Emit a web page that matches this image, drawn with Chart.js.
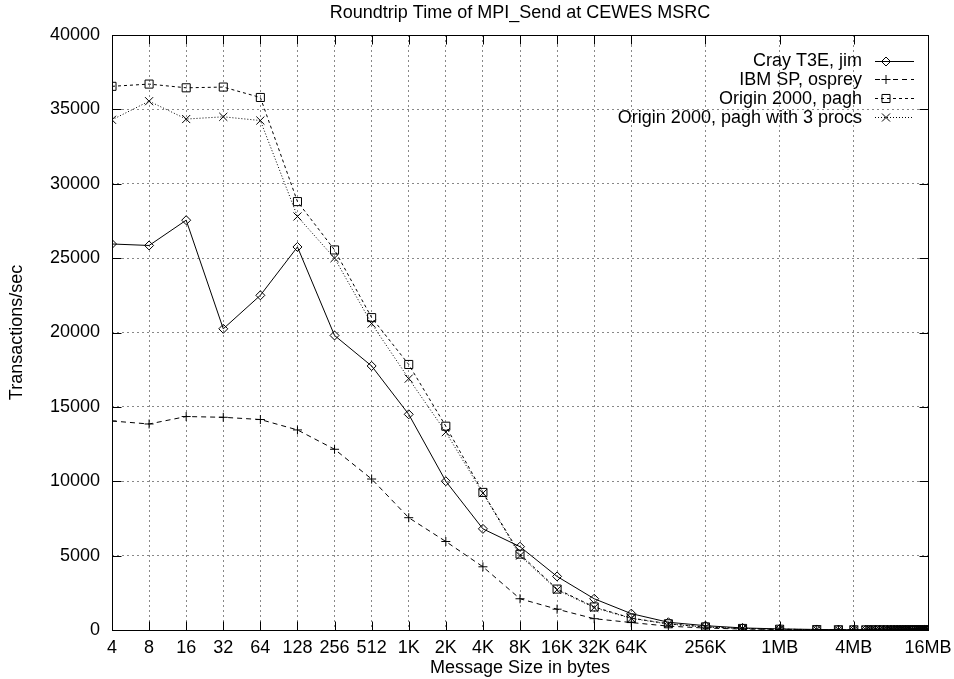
<!DOCTYPE html>
<html>
<head>
<meta charset="utf-8">
<title>Roundtrip Time of MPI_Send at CEWES MSRC</title>
<script src="https://cdn.jsdelivr.net/npm/chart.js@4.4.0/dist/chart.umd.min.js"></script>
<style>
  html, body { margin: 0; padding: 0; background: #fff; }
  #wrap { width: 954px; height: 679px; }
</style>
</head>
<body>
<div id="wrap"><canvas id="chart" width="954" height="679"></canvas></div>
<script>
const KB = 1024, MB = 1024 * KB;

// message sizes in bytes
const msgSizes = [4, 8, 16, 32, 64, 128, 256, 512,
    1 * KB, 2 * KB, 4 * KB, 8 * KB, 16 * KB, 32 * KB, 64 * KB, 128 * KB, 256 * KB, 512 * KB,
    1 * MB, 2 * MB, 3 * MB, 4 * MB,
    5 * MB, 5.5 * MB, 6 * MB, 6.5 * MB, 7 * MB, 7.5 * MB, 8 * MB, 8.5 * MB, 9 * MB, 9.5 * MB,
    10 * MB, 10.5 * MB, 11 * MB, 11.5 * MB, 12 * MB, 12.5 * MB, 13 * MB, 13.5 * MB, 14 * MB,
    14.5 * MB, 15 * MB, 15.5 * MB, 16 * MB];

// transactions/sec
const crayT3E = [25950, 25850, 27550, 20250, 22500, 25750, 19800, 17750,
    14500, 10000, 6800, 5600, 3600, 2100, 1100, 520, 290, 140,
    72, 36, 24, 18,
    14, 13, 12, 11, 10, 10, 9, 8, 8, 8, 7, 7, 7, 6, 6, 6, 6, 5, 5, 5, 5, 5, 5];
const ibmSP = [14050, 13850, 14350, 14300, 14150, 13450, 12150, 10150,
    7550, 5950, 4250, 2100, 1400, 760, 500, 260, 130, 65,
    33, 16, 11, 8,
    7, 6, 6, 5, 5, 4, 4, 4, 4, 3, 3, 3, 3, 3, 3, 3, 2, 2, 2, 2, 2, 2, 2];
const originPagh = [36550, 36700, 36450, 36500, 35800, 28800, 25550, 21000,
    17850, 13700, 9250, 5100, 2750, 1550, 800, 420, 210, 105,
    52, 26, 17, 13,
    10, 9, 9, 8, 7, 7, 6, 6, 6, 5, 5, 5, 5, 4, 4, 4, 4, 4, 4, 3, 3, 3, 3];
const originPagh3 = [34300, 35550, 34350, 34500, 34250, 27800, 25000, 20600,
    16900, 13300, 9200, 5000, 2700, 1500, 780, 400, 200, 100,
    50, 25, 17, 12,
    10, 9, 8, 8, 7, 7, 6, 6, 5, 5, 5, 5, 4, 4, 4, 4, 4, 4, 3, 3, 3, 3, 3];

const seriesNames = ['Cray T3E, jim', 'IBM SP, osprey', 'Origin 2000, pagh', 'Origin 2000, pagh with 3 procs'];
const chartTitle = 'Roundtrip Time of MPI_Send at CEWES MSRC';

const xTickValues = [4, 8, 16, 32, 64, 128, 256, 512, 1 * KB, 2 * KB, 4 * KB, 8 * KB, 16 * KB,
    32 * KB, 64 * KB, 256 * KB, 1 * MB, 4 * MB, 16 * MB];
const xTickLabels = ['4', '8', '16', '32', '64', '128', '256', '512', '1K', '2K', '4K', '8K', '16K',
    '32K', '64K', '256K', '1MB', '4MB', '16MB'];
const yMin = 0, yMax = 40000, yStep = 5000;

const FONT = "'Liberation Sans', Arial, Helvetica, sans-serif";
const FS = 18;
Chart.defaults.font.family = FONT;
Chart.defaults.font.size = FS;
Chart.defaults.color = '#000';

function toPoints(values) {
    return values.map((v, i) => ({ x: msgSizes[i], y: v }));
}

const styles = [
    { marker: 'diamond', radius: 4.5, dash: [] },
    { marker: 'plus', radius: 4.5, dash: [5, 4] },
    { marker: 'square', radius: 5.7, dash: [3, 3] },
    { marker: 'x', radius: 5.7, dash: [1, 2] }
];
const chartStyles = { diamond: 'rectRot', plus: 'cross', square: 'rect', x: 'crossRot' };

const allValues = [crayT3E, ibmSP, originPagh, originPagh3];
const datasets = allValues.map((vals, i) => ({
    label: seriesNames[i],
    data: toPoints(vals),
    borderColor: '#000',
    borderWidth: 1,
    borderDash: styles[i].dash,
    pointStyle: chartStyles[styles[i].marker],
    pointRadius: styles[i].radius,
    pointBorderColor: '#000',
    pointBackgroundColor: 'rgba(0,0,0,0)',
    pointBorderWidth: 1,
    tension: 0,
    fill: false
}));

function drawMarker(ctx, kind, x, y, r) {
    ctx.beginPath();
    if (kind === 'diamond') {
        ctx.moveTo(x, y - r); ctx.lineTo(x + r, y); ctx.lineTo(x, y + r); ctx.lineTo(x - r, y); ctx.closePath();
    } else if (kind === 'plus') {
        ctx.moveTo(x - r, y); ctx.lineTo(x + r, y); ctx.moveTo(x, y - r); ctx.lineTo(x, y + r);
    } else if (kind === 'square') {
        const s = r * Math.SQRT1_2;
        ctx.rect(x - s, y - s, 2 * s, 2 * s);
    } else {
        const s = r * Math.SQRT1_2;
        ctx.moveTo(x - s, y - s); ctx.lineTo(x + s, y + s); ctx.moveTo(x - s, y + s); ctx.lineTo(x + s, y - s);
    }
    ctx.stroke();
}

// gnuplot style frame with inward ticks
const framePlugin = {
    id: 'frame',
    beforeDatasetsDraw(chart) {
        const ctx = chart.ctx;
        const a = chart.chartArea;
        const L = Math.round(a.left) + 0.5, R = Math.round(a.right) + 0.5;
        const T = Math.round(a.top) + 0.5, B = Math.round(a.bottom) + 0.5;
        const tl = 9;
        ctx.save();
        ctx.strokeStyle = '#000';
        ctx.lineWidth = 1;
        ctx.setLineDash([]);
        ctx.strokeRect(L, T, R - L, B - T);
        ctx.beginPath();
        xTickValues.forEach(v => {
            const px = Math.round(chart.scales.x.getPixelForValue(v)) + 0.5;
            ctx.moveTo(px, B); ctx.lineTo(px, B - tl);
            ctx.moveTo(px, T); ctx.lineTo(px, T + tl);
        });
        for (let v = yMin; v <= yMax; v += yStep) {
            const py = Math.round(chart.scales.y.getPixelForValue(v)) + 0.5;
            ctx.moveTo(L, py); ctx.lineTo(L + tl, py);
            ctx.moveTo(R, py); ctx.lineTo(R - tl, py);
        }
        ctx.stroke();
        ctx.restore();
    }
};

// title over the plot centre + key in the top right corner
const keyPlugin = {
    id: 'key',
    afterDraw(chart) {
        const ctx = chart.ctx;
        const a = chart.chartArea;
        ctx.save();
        ctx.font = FS + 'px ' + FONT;
        ctx.fillStyle = '#000';
        ctx.textAlign = 'center';
        ctx.textBaseline = 'middle';
        ctx.fillText(chartTitle, (a.left + a.right) / 2, 13);

        const textRight = 862, lineStart = 875, lineEnd = 914, markX = 886;
        const top = 60.5, step = 18.8;
        ctx.textAlign = 'right';
        seriesNames.forEach((name, i) => {
            const y = top + i * step;
            ctx.fillText(name, textRight, y + 1);
            ctx.strokeStyle = '#000';
            ctx.lineWidth = 1;
            ctx.setLineDash(styles[i].dash);
            ctx.beginPath();
            ctx.moveTo(lineStart, Math.round(y) + 0.5);
            ctx.lineTo(lineEnd, Math.round(y) + 0.5);
            ctx.stroke();
            ctx.setLineDash([]);
            drawMarker(ctx, styles[i].marker, markX, Math.round(y) + 0.5, styles[i].radius);
        });
        ctx.restore();
    }
};

const chartCanvas = document.getElementById('chart');
new Chart(chartCanvas.getContext('2d'), {
    type: 'line',
    data: { datasets: datasets },
    options: {
        responsive: false,
        animation: false,
        layout: { padding: { top: 35, left: 0, right: 26, bottom: 0 } },
        plugins: {
            legend: { display: false },
            tooltip: { enabled: false },
            title: { display: false }
        },
        scales: {
            x: {
                type: 'logarithmic',
                min: 4,
                max: 16 * MB,
                afterBuildTicks: scale => {
                    scale.ticks = xTickValues.map(v => ({ value: v }));
                },
                afterFit: scale => {
                    scale.height = 49;
                    scale.paddingLeft = 0;
                    scale.paddingRight = 0;
                },
                ticks: {
                    autoSkip: false,
                    maxRotation: 0,
                    minRotation: 0,
                    padding: 7,
                    callback: v => {
                        const i = xTickValues.indexOf(v);
                        return i >= 0 ? xTickLabels[i] : '';
                    }
                },
                grid: { color: '#888', lineWidth: 1, drawTicks: false },
                border: { display: false, dash: [2, 3] },
                title: {
                    display: true,
                    text: 'Message Size in bytes',
                    font: { size: FS },
                    padding: { top: 0, bottom: 0 }
                }
            },
            y: {
                type: 'linear',
                min: yMin,
                max: yMax,
                afterFit: scale => {
                    scale.width = 112;
                    scale.paddingTop = 0;
                    scale.paddingBottom = 0;
                },
                ticks: {
                    stepSize: yStep,
                    padding: 12,
                    callback: v => String(v)
                },
                grid: { color: '#888', lineWidth: 1, drawTicks: false },
                border: { display: false, dash: [2, 3] },
                title: {
                    display: true,
                    text: 'Transactions/sec',
                    font: { size: FS },
                    padding: { top: 6, bottom: 0 }
                }
            }
        }
    },
    plugins: [framePlugin, keyPlugin]
});
</script>
</body>
</html>
